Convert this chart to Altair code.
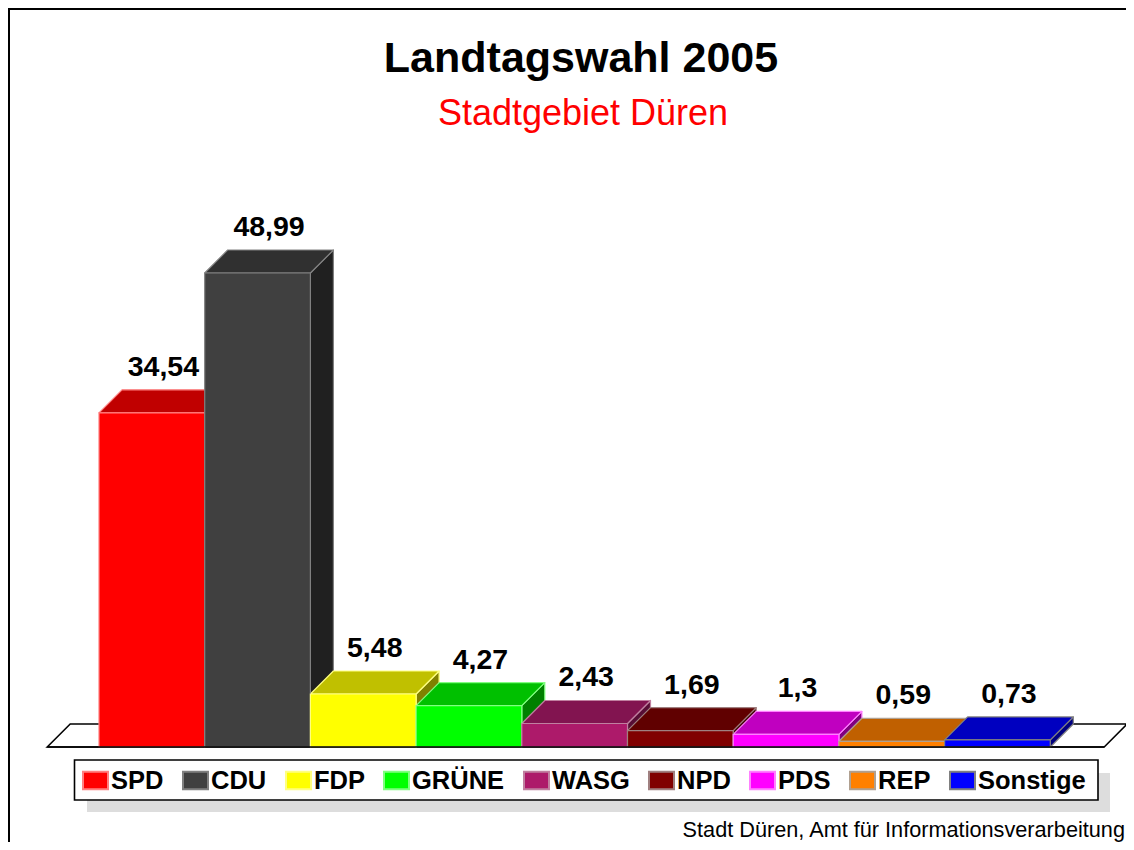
import altair as alt
import pandas as pd

parties = ["SPD", "CDU", "FDP", "GRÜNE", "WASG", "NPD", "PDS", "REP", "Sonstige"]
values = [34.54, 48.99, 5.48, 4.27, 2.43, 1.69, 1.3, 0.59, 0.73]
labels = ["34,54", "48,99", "5,48", "4,27", "2,43", "1,69", "1,3", "0,59", "0,73"]
front = ["#ff0000", "#404040", "#ffff00", "#00ff00", "#ad1a6a", "#800000", "#ff00ff", "#ff8000", "#0000ff"]
top = ["#c00000", "#303030", "#c0c000", "#00c000", "#821450", "#600000", "#c000c0", "#c06000", "#0000c0"]
side = ["#800000", "#202020", "#808000", "#008000", "#570d35", "#400000", "#800080", "#804000", "#000080"]
edge = ["#ff8080", "#808080", "#ffff80", "#80ff80", "#c080a0", "#a08080", "#ff80ff", "#b0a090", "#808080"]

title_text = "Landtagswahl 2005"
subtitle_text = "Stadtgebiet Düren"
footer_text = "Stadt Düren, Amt für Informationsverarbeitung"

W, H = 1118, 834
UNIT_X, UNIT_Y = 105.7, 9.675      # pixels per category / per percent
X0, Y0 = 99 - 8, 747 - 8           # pixel position of category 0 / value 0
DX, DY = 23 / UNIT_X, 23 / UNIT_Y  # 3-D depth in data units
FONT = "Liberation Sans"

xs = alt.Scale(domain=[-X0 / UNIT_X, (W - X0) / UNIT_X], range=[0, W], nice=False, zero=False)
ys = alt.Scale(domain=[(Y0 - H) / UNIT_Y, Y0 / UNIT_Y], range=[H, 0], nice=False, zero=False)


def top_face(x, w, v, key, fill, stroke):
    pts = [(x, v, v), (x + DX, v + DY, v), (x + w, v + DY, v), (x + w + DX, v + DY, v + DY)]
    return [dict(x=a, y=b, y2=c, key=key, fill=fill, stroke=stroke) for a, b, c in pts]


rows_top, rows_side, rows_front = [], [], []
for i, v in enumerate(values):
    rows_top += top_face(i, 1, v, parties[i], top[i], edge[i])
    rows_side += [
        dict(x=i + 1, y=v, y2=0, key=parties[i], fill=side[i], stroke=edge[i]),
        dict(x=i + 1 + DX, y=v + DY, y2=DY, key=parties[i], fill=side[i], stroke=edge[i]),
    ]
    rows_front.append(dict(x=i, x2=i + 1, y=v, y2=0, party=parties[i], label=labels[i], lx=i + 0.5 + DX / 2, ly=v + DY))

df_front = pd.DataFrame(rows_front)


def face(rows):
    return (
        alt.Chart(pd.DataFrame(rows))
        .mark_area(strokeWidth=1.2, strokeJoin="round")
        .encode(
            x=alt.X("x:Q", scale=xs, axis=None),
            y=alt.Y("y:Q", scale=ys, axis=None, stack=None),
            y2="y2:Q",
            fill=alt.Fill("fill:N", scale=None),
            stroke=alt.Stroke("stroke:N", scale=None),
            detail="key:N",
        )
    )


floor = (
    alt.Chart(pd.DataFrame(top_face(-0.49, 10, 0, "floor", "white", "black")))
    .mark_area(strokeWidth=1.6, color="white", stroke="black")
    .encode(
        x=alt.X("x:Q", scale=xs, axis=None),
        y=alt.Y("y:Q", scale=ys, axis=None, stack=None),
        y2="y2:Q",
    )
)

bars = (
    alt.Chart(df_front)
    .mark_rect(strokeWidth=1.2)
    .encode(
        x=alt.X("x:Q", scale=xs, axis=None),
        x2="x2:Q",
        y=alt.Y("y:Q", scale=ys, axis=None),
        y2="y2:Q",
        fill=alt.Fill(
            "party:N",
            scale=alt.Scale(domain=parties, range=front),
            sort=parties,
            legend=alt.Legend(
                title=None,
                orient="none",
                legendX=74,
                legendY=759,
                direction="horizontal",
                columns=9,
                gridAlign="none",
                columnPadding=15,
                symbolType="M-1,-0.7H1V0.7H-1Z",
                symbolSize=625,
                symbolStrokeWidth=2,
                labelFont=FONT,
                labelFontSize=25.5,
                labelFontWeight="bold",
                labelColor="black",
                labelOffset=2,
                labelLimit=300,
                padding=0,
            ),
        ),
        stroke=alt.Stroke("party:N", scale=alt.Scale(domain=parties, range=edge), sort=parties, legend=None),
    )
)

baseline = (
    alt.Chart(pd.DataFrame([dict(a=-0.49, b=9.51, y=0)]))
    .mark_rule(color="black", strokeWidth=1.6)
    .encode(x=alt.X("a:Q", scale=xs, axis=None), x2="b:Q", y=alt.Y("y:Q", scale=ys, axis=None))
)

value_text = (
    alt.Chart(df_front)
    .mark_text(font=FONT, fontSize=28.5, fontWeight="bold", color="black", dy=-14, baseline="alphabetic", align="center")
    .encode(
        x=alt.X("lx:Q", scale=xs, axis=None),
        y=alt.Y("ly:Q", scale=ys, axis=None),
        text="label:N",
    )
)


def note(text, x, y, size, color="black", weight="normal", align="center"):
    return (
        alt.Chart(pd.DataFrame([dict(t=text)]))
        .mark_text(font=FONT, fontSize=size, color=color, fontWeight=weight, align=align, baseline="alphabetic")
        .encode(x=alt.value(x), y=alt.value(y), text="t:N")
    )


one = pd.DataFrame([dict(a=0)])
frame_left = alt.Chart(one).mark_rule(color="black", strokeWidth=2).encode(x=alt.value(1), y=alt.value(0), y2=alt.value(H))
frame_top = alt.Chart(one).mark_rule(color="black", strokeWidth=2).encode(y=alt.value(1), x=alt.value(0), x2=alt.value(W))
shadow = (
    alt.Chart(one)
    .mark_rect(color="#dddddd")
    .encode(x=alt.value(79), x2=alt.value(1102), y=alt.value(765), y2=alt.value(804))
)
legend_box = (
    alt.Chart(one)
    .mark_rect(fill="white", stroke="black", strokeWidth=1.6)
    .encode(x=alt.value(66.5), x2=alt.value(1090), y=alt.value(752), y2=alt.value(792))
)

chart = (
    alt.layer(
        frame_left,
        frame_top,
        shadow,
        legend_box,
        floor,
        face(rows_side),
        face(rows_top),
        bars,
        baseline,
        value_text,
        note(title_text, 573, 64, 43, weight="bold"),
        note(subtitle_text, 575, 117, 36, color="#ff0000"),
        note(footer_text, 1117, 829, 21.7, align="right"),
    )
    .properties(width=W, height=H, padding=0, background="white", autosize=alt.AutoSizeParams(type="none"))
    .configure_view(stroke=None)
)

chart.save("out.html", embed_options={"renderer": "svg", "actions": False})
